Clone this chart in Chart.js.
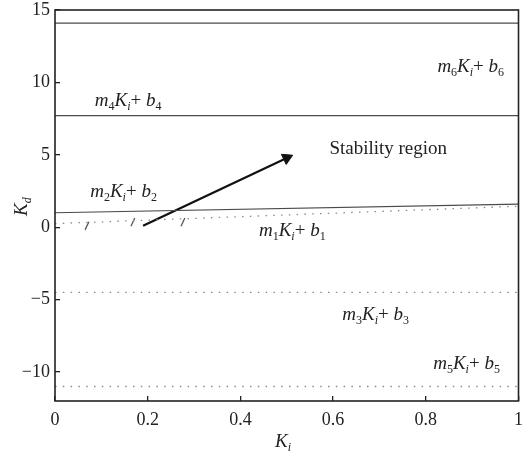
<!DOCTYPE html>
<html>
<head>
<meta charset="utf-8">
<script src="https://cdn.jsdelivr.net/npm/chart.js@4.4.1/dist/chart.umd.min.js"></script>
<style>
  html, body { margin: 0; padding: 0; background: #fff; overflow: hidden; }
  #wrap { width: 526px; height: 455px; position: relative; }
</style>
</head>
<body>
<div id="wrap"><canvas id="chartKd"></canvas></div>
<script>
'use strict';

const SERIF = "'Liberation Serif', 'DejaVu Serif', serif";

// ─── Data ─────────────────────────────────────────────────────────────────────

const kiRange = [0, 1];
const line6Kd = [14.1, 14.1];   // solid, top
const line4Kd = [7.7, 7.7];     // solid
const line2Kd = [1.0, 1.6];     // solid, slightly rising
const line1Kd = [0.25, 1.45];   // dotted
const line3Kd = [-4.5, -4.5];   // dotted
const line5Kd = [-11.0, -11.0]; // dotted

const arrowKi = [0.19, 0.50];
const arrowKd = [0.1, 4.78];

const slashKi = [0.069, 0.168, 0.276];
const slashKd = [0.1, 0.35, 0.35];

const xTicks = [0, 0.2, 0.4, 0.6, 0.8, 1];
const yTicks = [-10, -5, 0, 5, 10, 15];

// line labels  m_n K_i + b_n
const labelIdx = ['6', '4', '2', '1', '3', '5'];
const labelKi  = [0.825, 0.086, 0.076, 0.44, 0.62, 0.816];
const labelKd  = [10.7, 8.34, 2.07, -0.62, -6.4, -9.8];

const regionText = 'Stability region';
const regionKi = 0.592;
const regionKd = 5.03;

// ─── Helpers ──────────────────────────────────────────────────────────────────

const pts = (xs, ys) => xs.map((x, i) => ({ x, y: ys[i] }));

function solid(data) {
  return { data, showLine: true, borderColor: '#4a4a4a', borderWidth: 1.2, pointRadius: 0, fill: false };
}
function dotted(data) {
  return { data, showLine: true, borderColor: '#8a8a8a', borderWidth: 1.3, borderDash: [1.5, 6.3], pointRadius: 0, fill: false };
}

/** draw pieces [text, font, dy] one after another from (x, y) */
function drawPieces(ctx, x, y, pieces) {
  ctx.textAlign = 'left';
  ctx.textBaseline = 'alphabetic';
  for (const [txt, font, dy] of pieces) {
    ctx.font = font;
    ctx.fillText(txt, x, y + dy);
    x += ctx.measureText(txt).width;
  }
}

const BIG   = `19px ${SERIF}`;
const BIG_I = `italic 19px ${SERIF}`;
const SUB   = `12px ${SERIF}`;
const SUB_I = `italic 12px ${SERIF}`;

const textPlugin = {
  id: 'texts',
  afterDatasetsDraw(chart) {
    const { ctx, chartArea: a, scales: { x, y } } = chart;
    ctx.save();

    // box
    ctx.strokeStyle = '#222';
    ctx.lineWidth = 1.6;
    ctx.strokeRect(a.left, a.top, a.right - a.left, a.bottom - a.top);

    ctx.fillStyle = '#222';
    labelIdx.forEach((n, i) => {
      drawPieces(ctx, x.getPixelForValue(labelKi[i]), y.getPixelForValue(labelKd[i]), [
        ['m', BIG_I, 0], [n, SUB, 4], ['K', BIG_I, 0], ['i', SUB_I, 4],
        ['+ ', BIG, 0], ['b', BIG_I, 0], [n, SUB, 4],
      ]);
    });

    ctx.font = BIG;
    ctx.fillText(regionText, x.getPixelForValue(regionKi), y.getPixelForValue(regionKd));

    // axis titles
    drawPieces(ctx, 275, 447, [['K', BIG_I, 0], ['i', SUB_I, 4]]);
    ctx.translate(27, 216);
    ctx.rotate(-Math.PI / 2);
    drawPieces(ctx, 0, 0, [['K', BIG_I, 0], ['d', SUB_I, 4]]);

    ctx.restore();
  },
};

// ─── Chart ────────────────────────────────────────────────────────────────────

new Chart(document.getElementById('chartKd'), {
  type: 'scatter',
  data: {
    datasets: [
      solid(pts(kiRange, line6Kd)),
      solid(pts(kiRange, line4Kd)),
      solid(pts(kiRange, line2Kd)),
      dotted(pts(kiRange, line1Kd)),
      dotted(pts(kiRange, line3Kd)),
      dotted(pts(kiRange, line5Kd)),
      {
        data: pts(arrowKi, arrowKd),
        showLine: true,
        borderColor: '#111',
        backgroundColor: '#111',
        borderWidth: 2.2,
        pointStyle: ['circle', 'triangle'],
        pointRadius: [0, 6.5],
        pointBorderWidth: 1,
        pointRotation: [0, 64.7],
      },
      {
        data: pts(slashKi, slashKd),
        showLine: false,
        pointStyle: 'line',
        pointRadius: 4.5,
        pointRotation: -65,
        borderColor: '#555',
        pointBorderWidth: 1.3,
      },
    ],
  },
  options: {
    animation: false,
    responsive: true,
    maintainAspectRatio: false,
    events: [],
    layout: { padding: { left: 0, right: 0, top: 10, bottom: 0 } },
    plugins: { legend: { display: false }, tooltip: { enabled: false } },
    scales: {
      x: {
        type: 'linear',
        min: 0,
        max: 1,
        afterBuildTicks: s => { s.ticks = xTicks.map(value => ({ value })); },
        afterFit: s => { s.height = 54; s.paddingLeft = 0; s.paddingRight = 0; },
        border: { display: false },
        grid: { drawOnChartArea: false, drawTicks: true, tickLength: -5, color: '#222', lineWidth: 1.3 },
        ticks: {
          padding: 13,
          color: '#222',
          font: { family: SERIF, size: 18 },
          maxRotation: 0,
          callback: v => String(v),
        },
      },
      y: {
        type: 'linear',
        min: -12,
        max: 15,
        afterBuildTicks: s => { s.ticks = yTicks.map(value => ({ value })); },
        afterFit: s => { s.width = 55; s.paddingTop = 0; s.paddingBottom = 0; },
        border: { display: false },
        grid: { drawOnChartArea: false, drawTicks: true, tickLength: -5, color: '#222', lineWidth: 1.3 },
        ticks: {
          padding: 10,
          color: '#222',
          font: { family: SERIF, size: 18 },
          callback: v => String(v).replace('-', '\u2212'),
        },
      },
    },
  },
  plugins: [textPlugin],
});
</script>
</body>
</html>
